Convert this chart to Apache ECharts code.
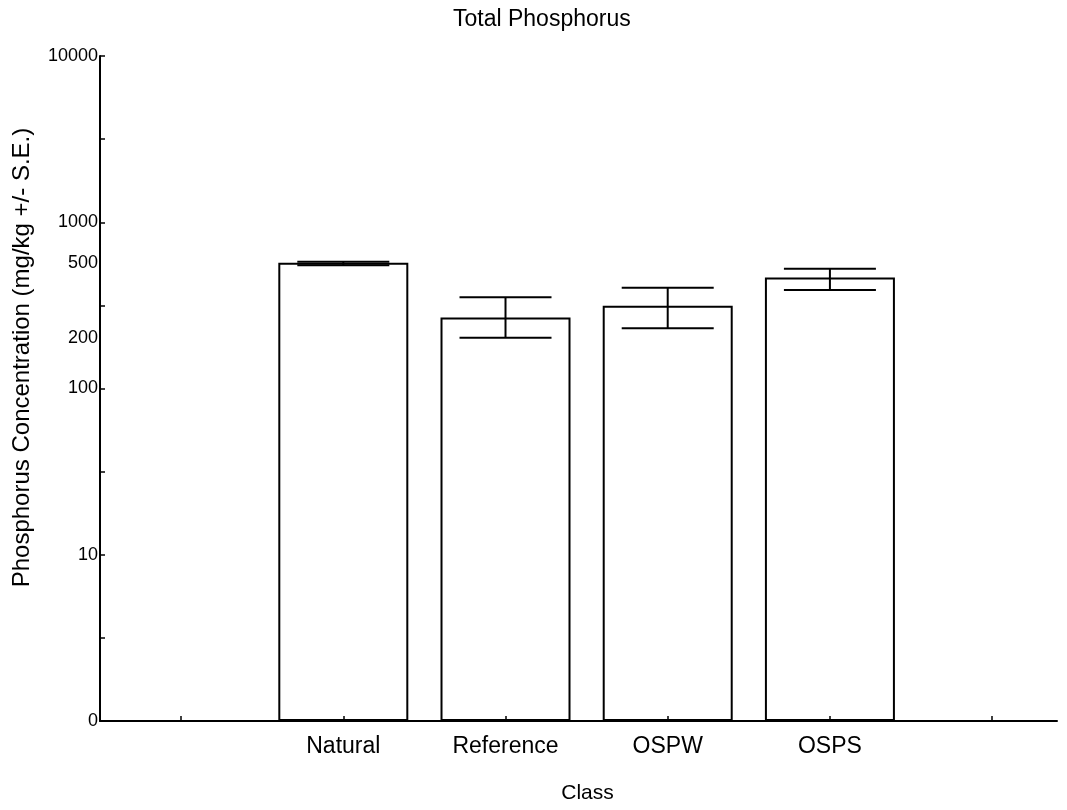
<!DOCTYPE html>
<html>
<head>
<meta charset="utf-8">
<script src="https://cdn.jsdelivr.net/npm/echarts@6/dist/echarts.min.js"></script>
<style>
html, body { margin: 0; padding: 0; background: #fff; }
#chart { width: 1067px; height: 810px; }
</style>
</head>
<body>
<div id="chart"></div>
<script>
// ---- data ----
var categories = ['Natural', 'Reference', 'OSPW', 'OSPS'];
var categoryPositions = [1, 2, 3, 4];
var xTickPositions = [0, 1, 2, 3, 4, 5];
var meanValues = [570, 267, 315, 466];
var upperValues = [578, 354, 404, 526];
var lowerValues = [552, 202, 230, 391];
var yTickValues = [1, 3.162, 10, 31.62, 100, 316.2, 1000, 3162, 10000];
var yLabelValues = [1, 10, 100, 200, 500, 1000, 10000];
var yLabelTexts = ['0', '10', '100', '200', '500', '1000', '10000'];

var FONT = 'Liberation Sans';

var barData = categoryPositions.map(function (p, i) { return [p, meanValues[i]]; });
var errData = categoryPositions.map(function (p, i) { return [p, lowerValues[i], upperValues[i]]; });

var chart = echarts.init(document.getElementById('chart'));
chart.setOption({
  backgroundColor: '#fff',
  animation: false,
  title: {
    text: 'Total Phosphorus',
    left: 448, top: 3,
    textStyle: { fontFamily: FONT, fontSize: 23, fontWeight: 'normal', color: '#000' }
  },
  grid: { left: 100, right: 10, top: 56, bottom: 89 },
  xAxis: {
    type: 'value', min: -0.5, max: 5.4, z: 10,
    name: 'Class', nameLocation: 'middle', nameGap: 62,
    nameTextStyle: { fontFamily: FONT, fontSize: 21, color: '#000', padding: [0, 0, 0, 18] },
    axisLine: { show: true, onZero: false, lineStyle: { color: '#000', width: 2 } },
    axisTick: { show: true, inside: true, length: 5, lineStyle: { color: '#000', width: 1.5 }, customValues: xTickPositions },
    axisLabel: {
      customValues: categoryPositions, margin: 14,
      fontFamily: FONT, fontSize: 23, color: '#000',
      formatter: function (v) { var i = categoryPositions.indexOf(v); return i >= 0 ? categories[i] : ''; }
    },
    splitLine: { show: false }
  },
  yAxis: {
    type: 'log', logBase: 10, min: 1, max: 10000, z: 10,
    name: 'Phosphorus Concentration (mg/kg +/- S.E.)', nameLocation: 'middle', nameGap: 66,
    nameTextStyle: { fontFamily: FONT, fontSize: 24, color: '#000', padding: [0, 0, 0, 62] },
    axisLine: { show: true, onZero: false, lineStyle: { color: '#000', width: 2 } },
    axisTick: { show: true, inside: true, length: 5, lineStyle: { color: '#000', width: 1.5 }, customValues: yTickValues },
    axisLabel: {
      customValues: yLabelValues, margin: 2,
      fontFamily: FONT, fontSize: 18, color: '#000',
      formatter: function (v) {
        var i = -1;
        for (var k = 0; k < yLabelValues.length; k++) { if (Math.abs(yLabelValues[k] - v) < 1e-6 * yLabelValues[k]) i = k; }
        if (i < 0) return '';
        if (yLabelValues[i] === 500) return '{up|' + yLabelTexts[i] + '}';
        return yLabelTexts[i];
      },
      rich: { up: { fontFamily: FONT, fontSize: 18, color: '#000', padding: [0, 0, 18, 0] } }
    },
    splitLine: { show: false }
  },
  series: [
    {
      type: 'bar', data: barData, barWidth: 130, z: 2,
      itemStyle: { color: '#fff', borderColor: '#000', borderWidth: 2 }
    },
    {
      type: 'custom', data: errData, z: 3,
      renderItem: function (params, api) {
        var x = api.value(0), lo = api.value(1), hi = api.value(2);
        var pLo = api.coord([x, lo]), pHi = api.coord([x, hi]);
        var hw = 46;
        var st = { stroke: '#000', lineWidth: 2 };
        return {
          type: 'group', children: [
            { type: 'line', shape: { x1: pLo[0], y1: pLo[1], x2: pHi[0], y2: pHi[1] }, style: st },
            { type: 'line', shape: { x1: pLo[0] - hw, y1: pLo[1], x2: pLo[0] + hw, y2: pLo[1] }, style: st },
            { type: 'line', shape: { x1: pHi[0] - hw, y1: pHi[1], x2: pHi[0] + hw, y2: pHi[1] }, style: st }
          ]
        };
      }
    }
  ]
});
</script>
</body>
</html>
